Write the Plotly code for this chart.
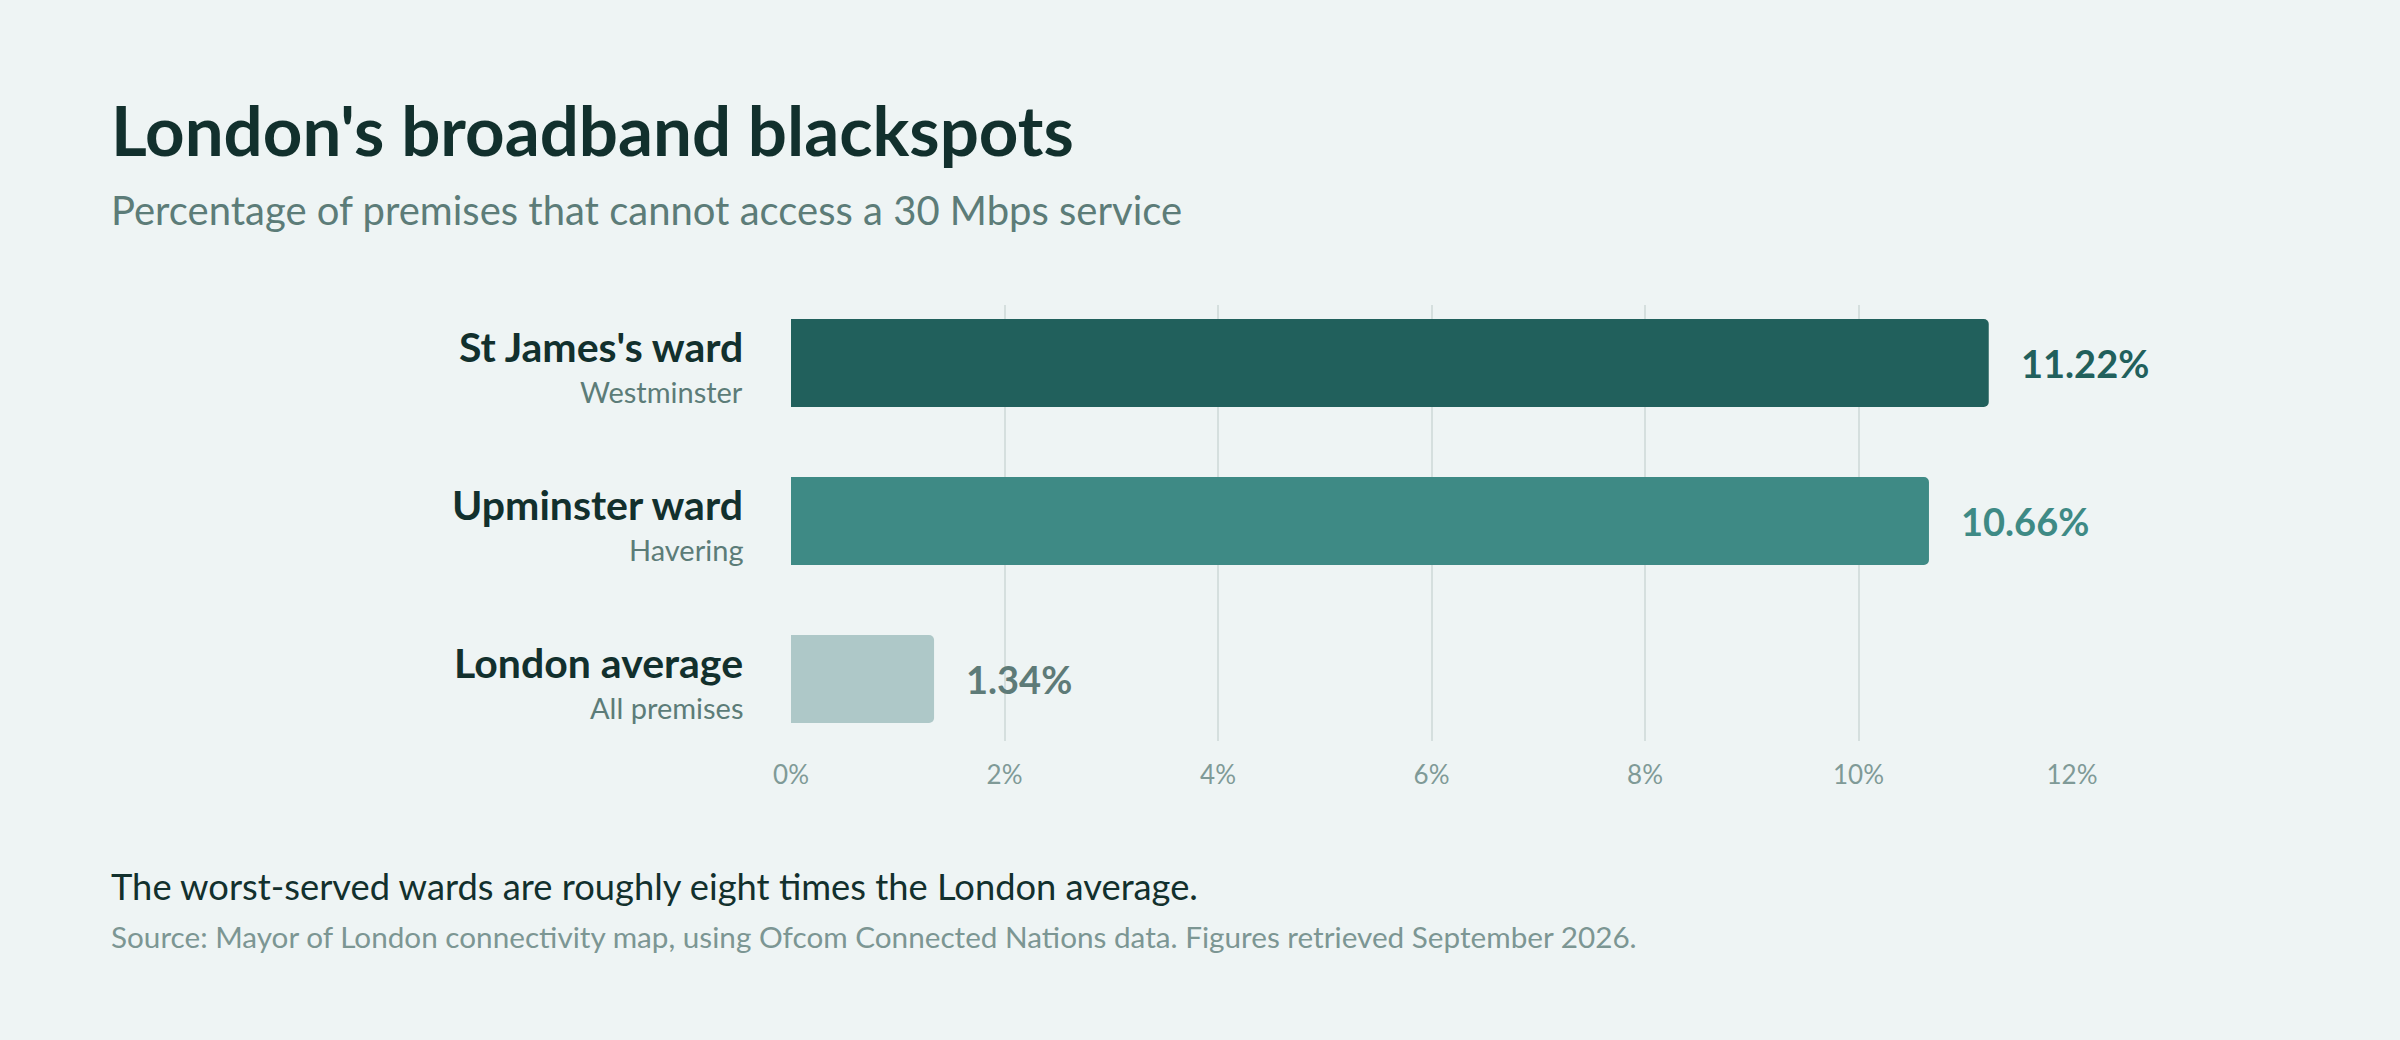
import plotly.graph_objects as go

# data
wards = ["St James's ward", "Upminster ward", "London average"]
boroughs = ["Westminster", "Havering", "All premises"]
pct_no_30mbps = [11.22, 10.66, 1.34]
value_labels = ["11.22%", "10.66%", "1.34%"]
x_ticks = [0, 2, 4, 6, 8, 10, 12]
x_tick_labels = ["0%", "2%", "4%", "6%", "8%", "10%", "12%"]

BG = "#eef4f4"
DARK = "#12302d"
MUTED = "#5c7c78"
bar_colors = ["#21605c", "#3e8a85", "#aec8c8"]
label_colors = ["#21605c", "#3e8a85", "#5e7b78"]
FONT = "Lato"

W, H = 2400, 1040
L, R, T, B = 791, 328, 305, 299
PW, PH = W - L - R, H - T - B


def px_x(px):
    return (px - L) / PW


def px_y(py):
    return (H - B - py) / PH


fig = go.Figure()
fig.add_trace(go.Bar(
    x=pct_no_30mbps, y=wards, orientation="h",
    marker=dict(color=bar_colors, cornerradius=5, line=dict(width=0)),
    width=0.557, hoverinfo="skip",
))

# value labels at the end of each bar
for w, v, lab, c in zip(wards, pct_no_30mbps, value_labels, label_colors):
    fig.add_annotation(x=v, y=w, xref="x", yref="y", text=f"<b>{lab}</b>",
                       showarrow=False, xanchor="left", xshift=30, yshift=0,
                       font=dict(family=FONT, size=38, color=c))

# two-line category labels
for w, b in zip(wards, boroughs):
    fig.add_annotation(x=0, y=w, xref="paper", yref="y", text=f"<b>{w}</b>",
                       showarrow=False, xanchor="right", xshift=-46, yshift=17,
                       font=dict(family=FONT, size=41, color=DARK))
    fig.add_annotation(x=0, y=w, xref="paper", yref="y", text=b,
                       showarrow=False, xanchor="right", xshift=-46, yshift=-28,
                       font=dict(family=FONT, size=29, color=MUTED))

# title block and footer
texts = [
    ("<b>London's broadband blackspots</b>", 150, 69, DARK),
    ("Percentage of premises that cannot access a 30 Mbps service", 222, 40, MUTED),
    ("The worst-served wards are roughly eight times the London average.", 897, 36.3, DARK),
    ("Source: Mayor of London connectivity map, using Ofcom Connected Nations data. "
     "Figures retrieved September 2026.", 945, 29.7, "#7c9693"),
]
for txt, baseline, size, col in texts:
    fig.add_annotation(x=px_x(109), y=px_y(baseline - 0.3 * size), xref="paper", yref="paper",
                       text=txt, showarrow=False, xanchor="left", yanchor="middle",
                       font=dict(family=FONT, size=size, color=col))

fig.update_xaxes(range=[0, 12], tickvals=x_ticks, ticktext=x_tick_labels,
                 showgrid=True, gridcolor="#d5dfde", gridwidth=2, zeroline=False,
                 showline=False, ticks="", ticklabelstandoff=16,
                 tickfont=dict(family=FONT, size=26, color="#7f9a97"), fixedrange=True)
fig.update_yaxes(range=[2.392, -0.367], showticklabels=False, showgrid=False,
                 zeroline=False, fixedrange=True)

fig.update_layout(
    width=W, height=H, paper_bgcolor=BG, plot_bgcolor=BG,
    margin=dict(l=L, r=R, t=T, b=B), showlegend=False,
    font=dict(family=FONT),
)

fig.write_html("out.html", config={"displayModeBar": False},
               post_script="document.body.style.margin='0';document.body.style.background='" + BG + "';")
